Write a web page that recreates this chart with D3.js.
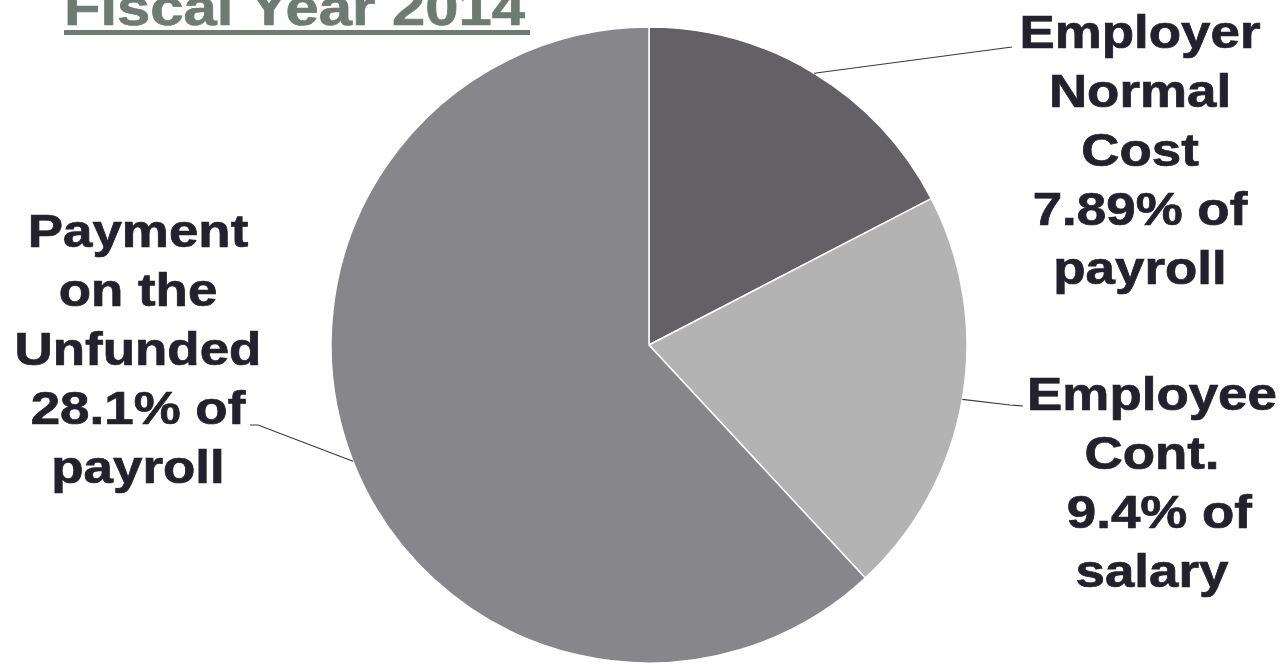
<!DOCTYPE html>
<meta charset="utf-8">
<title>Fiscal Year 2014</title>
<style>
body{
	margin: 0;
	background: white;
}
text{
	font-family: "Liberation Sans", Arial, sans-serif;
	font-weight: bold;
	white-space: pre;
}
</style>
<body>
<script src="https://d3js.org/d3.v7.min.js"></script>
<script>

// data
var title = 'Fiscal Year 2014';
var categories = ['Employer Normal Cost', 'Employee Cont.', 'Payment on the Unfunded'];
var values = [7.89, 9.4, 28.1];
var labelLines = [
	['Employer', 'Normal', 'Cost', '7.89% of', 'payroll'],
	['Employee', 'Cont.', ' 9.4% of', 'salary'],
	['Payment', 'on the', 'Unfunded', '28.1% of', 'payroll']
];

var width = 1285, height = 665;
var cx = 649, cy = 345, radius = 318;

var colors = ['#636166', '#b3b3b3', '#87868a'];
var textcolor = '#23222c';

// label layout: centre x, first baseline, where the leader line meets the text
var labelpos = [
	{x: 1140, y: 48, leader: [[1012, 47]]},
	{x: 1152, y: 410, leader: [[1010, 405], [1023, 406]]},
	{x: 138, y: 247, leader: [[258, 425], [250, 425]]}
];
var lineheight = 59;
var fontsize = 46;
var stretch = 1.15;

var svg = d3.select('body')
	.append('svg')
	.attr('width', width)
	.attr('height', height);

var pie = d3.pie()
	.sort(null)
	.value(function(d){ return d; });

var arcs = pie(values);

var arc = d3.arc()
	.innerRadius(0)
	.outerRadius(radius);

var g = svg.append('g')
	.attr('transform', 'translate(' + cx + ',' + cy + ')');

g.selectAll('path')
	.data(arcs)
	.enter()
	.append('path')
	.attr('d', arc)
	.attr('fill', function(d, i){ return colors[i]; })
	.attr('stroke', 'white')
	.attr('stroke-width', 1.5)
	.attr('stroke-linejoin', 'round');

// leader lines start on the rim at the middle of each slice
var line = d3.line();
svg.selectAll('.leader')
	.data(arcs)
	.enter()
	.append('path')
	.attr('class', 'leader')
	.attr('fill', 'none')
	.attr('stroke', '#3a3a40')
	.attr('stroke-width', 1.2)
	.attr('d', function(d, i){
		var a = (d.startAngle + d.endAngle) / 2;
		var start = [cx + radius * Math.sin(a), cy - radius * Math.cos(a)];
		return line([start].concat(labelpos[i].leader));
	});

// labels
labelLines.forEach(function(lines, i){
	var p = labelpos[i];
	var lg = svg.append('g')
		.attr('transform', 'translate(' + p.x + ',0) scale(' + stretch + ',1)');
	lg.selectAll('text')
		.data(lines)
		.enter()
		.append('text')
		.attr('x', 0)
		.attr('y', function(d, j){ return p.y + j * lineheight; })
		.attr('text-anchor', 'middle')
		.attr('font-size', fontsize)
		.attr('fill', textcolor)
		.attr('stroke', textcolor)
		.attr('stroke-width', 0.7)
		.text(function(d){ return d; });
});

// title, cut by the top edge
var tg = svg.append('g')
	.attr('transform', 'translate(64,0) scale(' + stretch + ',1)');
tg.append('text')
	.attr('x', 0)
	.attr('y', 25)
	.attr('font-size', 52)
	.attr('fill', '#6e7b73')
	.attr('stroke', '#6e7b73')
	.attr('stroke-width', 0.7)
	.text(title);
svg.append('rect')
	.attr('x', 64)
	.attr('y', 30)
	.attr('width', 466)
	.attr('height', 5)
	.attr('fill', '#6e7b73');

</script>
</body>
